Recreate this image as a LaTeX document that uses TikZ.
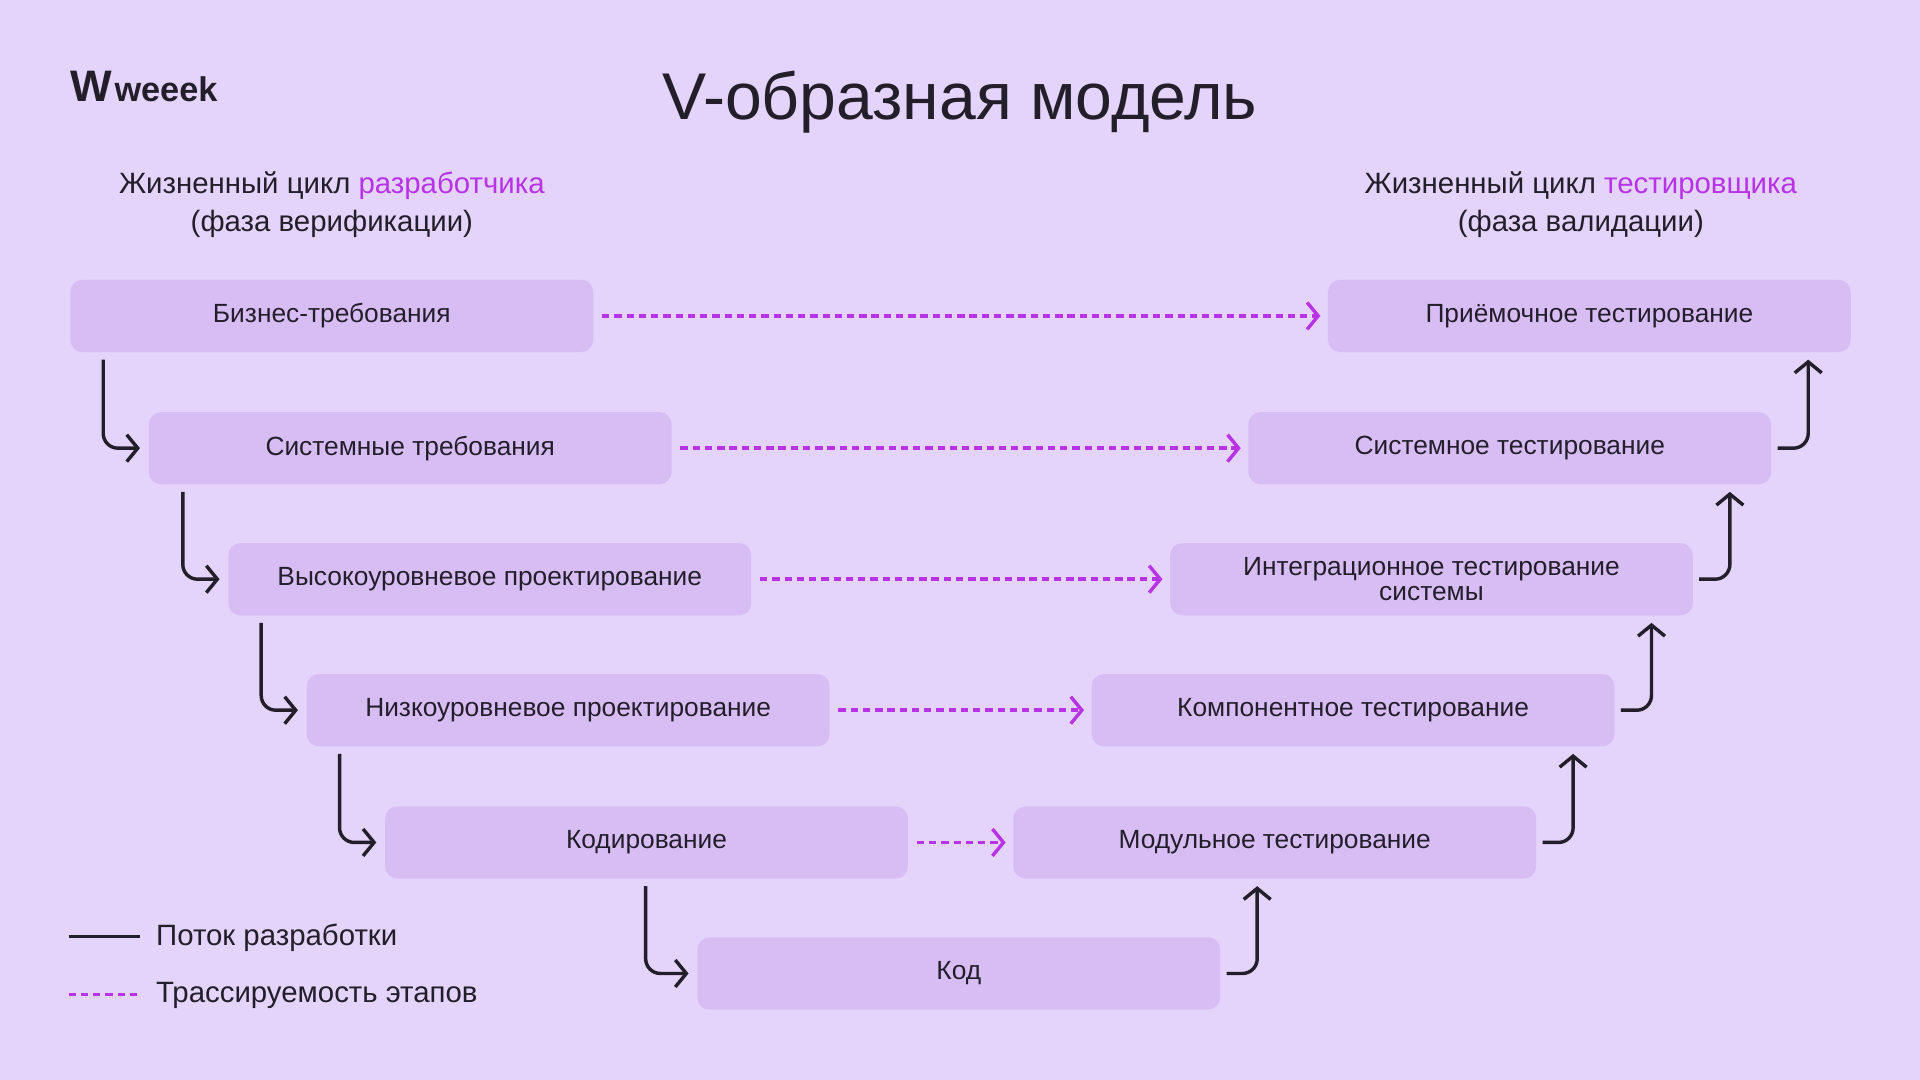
\documentclass[tikz,border=0pt]{standalone}
\usepackage{fontspec}
\setmainfont{Liberation Sans}
\usetikzlibrary{arrows.meta,calc}
\definecolor{bg}{HTML}{E4D3FB}
\definecolor{boxc}{HTML}{D8BDF5}
\definecolor{pur}{HTML}{B832E6}
\definecolor{dk}{HTML}{231F2A}
\begin{document}
\begin{tikzpicture}[x=1pt,y=-1pt,
  box/.style={fill=boxc,rounded corners=10pt,minimum width=427pt,minimum height=59pt,inner sep=0pt,font=\fontsize{21.5}{22}\selectfont,text=dk,align=center},
  tip/.style={-{Straight Barb[length=9pt,width=22pt,line width=2.8pt]}},
  dev/.style={tip,draw=dk,line width=2.8pt,rounded corners=12pt},
  tr/.style={tip,draw=pur,line width=2.8pt,dash pattern=on 6pt off 4pt}]
\fill[bg] (0,0) rectangle (1568,882);
\useasboundingbox (0,0) rectangle (1568,882);
\node[font=\fontsize{54}{60}\selectfont,text=dk] (title) at (784,83) {V-образная модель};
\node[font=\fontsize{36}{36}\selectfont\bfseries,text=dk,anchor=west] (logo) at (54,71) {W\kern2pt\fontsize{28}{30}\selectfont weeek};
\node[font=\fontsize{24}{31}\selectfont,text=dk,align=center] (hl) at (271,167) {Жизненный цикл \textcolor{pur}{разработчика}\\(фаза верификации)};
\node[font=\fontsize{24}{31}\selectfont,text=dk,align=center] (hr) at (1291,167) {Жизненный цикл \textcolor{pur}{тестировщика}\\(фаза валидации)};
\node[box] (b1) at (271,258) {Бизнес-требования};
\node[box] (b2) at (335,366) {Системные требования};
\node[box] (b3) at (400,473) {Высокоуровневое проектирование};
\node[box] (b4) at (464,580) {Низкоуровневое проектирование};
\node[box] (b5) at (528,688) {Кодирование};
\node[box] (c) at (783,795) {Код};
\node[box] (r1) at (1298,258) {Приёмочное тестирование};
\node[box] (r2) at (1233,366) {Системное тестирование};
\node[box,font=\fontsize{21.5}{21}\selectfont] (r3) at (1169,473) {Интеграционное тестирование\\системы};
\node[box] (r4) at (1105,580) {Компонентное тестирование};
\node[box] (r5) at (1041,688) {Модульное тестирование};
\foreach \ua/\lb/\dx in {b1/b2/37,b2/b3/37,b3/b4/37,b4/b5/37,b5/c/42}{
  \coordinate (s) at ($(\lb.west)+(-\dx,0)$);
  \coordinate (t) at ($(\ua.south)+(0,6)$);
  \draw[dev] (s |- t) |- ($(\lb.west)+(-7,0)$);
}
\foreach \lo/\up in {r2/r1,r3/r2,r4/r3,r5/r4,c/r5}{
  \coordinate (s) at ($(\lo.east)+(30,0)$);
  \coordinate (t) at ($(\up.south)+(0,6)$);
  \draw[dev] ($(\lo.east)+(5,0)$) -| (s |- t);
}
\foreach \a/\b in {b1/r1,b2/r2,b3/r3,b4/r4,b5/r5}
  \draw[tr] ($(\a.east)+(7,0)$) -- ($(\b.west)+(-6,0)$);
\coordinate (l1a) at (56,765); \coordinate (l1b) at (114,765);
\coordinate (l2a) at (56,812); \coordinate (l2b) at (114,812);
\draw[dk,line width=2.8pt] (l1a) -- (l1b);
\draw[pur,line width=2.8pt,dash pattern=on 6pt off 4pt] (l2a) -- (l2b);
\node[anchor=west,font=\fontsize{24}{26}\selectfont,text=dk] (t1) at (124,766) {Поток разработки};
\node[anchor=west,font=\fontsize{24}{26}\selectfont,text=dk] (t2) at (124,813) {Трассируемость этапов};
\end{tikzpicture}
\end{document}
